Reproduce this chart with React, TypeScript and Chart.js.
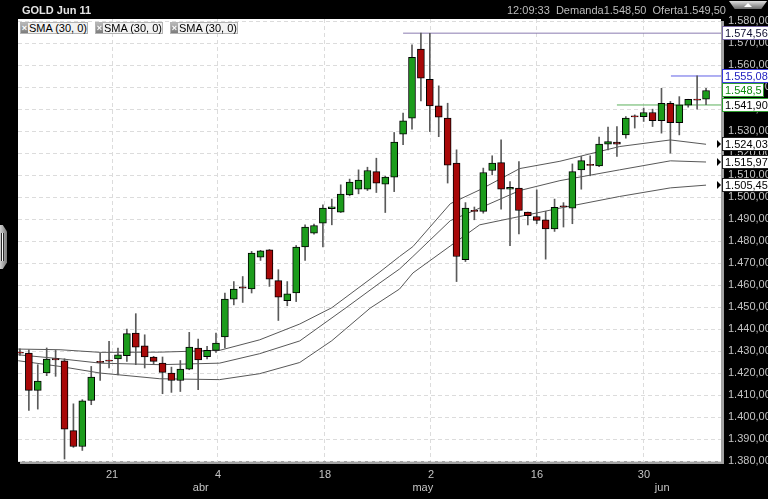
import React, { useEffect, useRef } from "react";
import { Chart, registerables } from "chart.js";

Chart.register(...registerables);

const FONT = '"Liberation Sans", Arial, sans-serif';

// ---- candle data (one slot per session) ----
const opens = [
  1429.5, 1429.1, 1412.1, 1420.0, 1426.6, 1425.6, 1393.8, 1386.6, 1407.5, 1425.3,
  1425.9, 1426.4, 1427.9, 1438.2, 1432.4, 1427.3, 1424.5, 1420.0, 1416.6, 1421.8,
  1431.4, 1427.5, 1430.3, 1436.4, 1453.6, 1459.2, 1458.2, 1472.7, 1476.0, 1462.0,
  1452.9, 1456.4, 1477.3, 1483.6, 1488.2, 1494.8, 1493.2, 1501.0, 1503.6, 1503.6,
  1511.6, 1505.9, 1509.1, 1528.6, 1535.9, 1567.3, 1553.6, 1541.5, 1535.9, 1515.5,
  1471.5, 1494.0, 1493.5, 1512.1, 1515.7, 1503.6, 1504.1, 1493.2, 1491.2, 1489.7,
  1485.5, 1496.0, 1495.0, 1512.4, 1514.9, 1514.2, 1524.1, 1525.0, 1528.3, 1537.0,
  1536.6, 1538.5, 1534.8, 1542.7, 1533.9, 1541.8, 1544.6, 1544.5,
];
const highs = [
  1431.0, 1430.6, 1423.8, 1431.4, 1430.3, 1426.5, 1406.0, 1407.9, 1423.0, 1429.1,
  1434.4, 1431.4, 1440.0, 1447.0, 1437.4, 1427.6, 1427.3, 1422.7, 1425.7, 1438.5,
  1435.5, 1432.1, 1438.2, 1456.4, 1461.6, 1463.9, 1475.3, 1475.8, 1476.2, 1467.0,
  1461.6, 1478.0, 1487.4, 1487.7, 1496.5, 1499.1, 1505.6, 1508.2, 1512.4, 1513.6,
  1517.7, 1509.5, 1529.4, 1538.2, 1569.2, 1574.6, 1574.5, 1550.6, 1542.7, 1521.5,
  1497.5, 1495.5, 1513.2, 1518.8, 1526.0, 1507.1, 1516.2, 1493.2, 1503.3, 1493.5,
  1499.1, 1497.5, 1515.1, 1518.5, 1518.8, 1527.3, 1531.8, 1532.1, 1536.6, 1537.4,
  1540.5, 1540.0, 1549.5, 1543.5, 1545.7, 1544.5, 1555.1, 1549.5,
];
const lows = [
  1428.0, 1403.0, 1403.6, 1418.8, 1418.5, 1380.9, 1386.2, 1384.8, 1405.6, 1416.6,
  1422.3, 1419.2, 1425.3, 1423.8, 1422.3, 1423.8, 1410.6, 1411.2, 1411.6, 1421.5,
  1412.4, 1426.4, 1429.4, 1431.4, 1451.0, 1452.1, 1456.4, 1471.2, 1459.4, 1443.9,
  1450.6, 1452.5, 1471.2, 1483.2, 1477.3, 1487.4, 1493.0, 1500.6, 1501.5, 1503.0,
  1502.1, 1493.0, 1502.5, 1523.8, 1530.9, 1543.8, 1529.8, 1527.5, 1506.4, 1461.6,
  1470.7, 1489.7, 1492.7, 1510.1, 1494.5, 1477.9, 1483.3, 1487.4, 1487.9, 1471.8,
  1484.4, 1486.4, 1487.9, 1503.6, 1509.7, 1513.8, 1521.5, 1518.5, 1526.8, 1531.4,
  1534.4, 1532.1, 1529.1, 1520.0, 1528.3, 1540.9, 1540.0, 1542.0,
];
const closes = [
  1429.0, 1412.1, 1416.4, 1426.4, 1426.0, 1394.5, 1386.6, 1407.4, 1418.2, 1424.8,
  1425.4, 1428.3, 1437.9, 1431.8, 1427.3, 1425.3, 1420.3, 1416.6, 1421.8, 1431.8,
  1426.0, 1430.3, 1433.6, 1453.6, 1458.2, 1458.6, 1474.5, 1475.6, 1462.7, 1454.5,
  1456.0, 1477.3, 1486.4, 1487.1, 1495.0, 1495.6, 1501.4, 1506.8, 1507.7, 1512.1,
  1506.4, 1509.1, 1525.0, 1534.7, 1563.6, 1554.1, 1541.5, 1536.4, 1514.5, 1473.0,
  1495.0, 1493.5, 1511.2, 1515.5, 1503.6, 1504.5, 1493.9, 1491.6, 1489.4, 1485.5,
  1495.3, 1495.5, 1511.6, 1516.6, 1514.4, 1524.1, 1525.3, 1524.1, 1535.9, 1536.5,
  1538.5, 1534.8, 1542.7, 1533.9, 1542.0, 1544.5, 1544.1, 1548.5,
];

// ---- SMA (30) lines: slot position / value ----
const smaHighX = [-0.2, 4.5, 9.0, 15.7, 22.4, 26.9, 31.4, 35.0, 40.4, 42.6, 44.1, 48.3, 51.6, 56.1, 60.6, 67.3, 73.0, 77.0];
const smaHighY = [1430.9, 1430.6, 1429.4, 1429.5, 1430.3, 1435.1, 1442.3, 1449.7, 1466.0, 1473.0, 1477.5, 1497.0, 1503.3, 1513.0, 1516.3, 1523.0, 1526.0, 1524.03];
const smaCloseX = [-0.2, 4.5, 9.0, 15.7, 22.4, 26.9, 31.4, 36.7, 40.4, 42.6, 44.1, 48.3, 51.6, 56.1, 60.6, 67.3, 73.0, 77.0];
const smaCloseY = [1428.3, 1426.5, 1424.5, 1423.8, 1424.5, 1428.8, 1434.6, 1450.0, 1461.0, 1467.3, 1473.0, 1489.3, 1495.0, 1503.0, 1507.5, 1512.4, 1516.5, 1515.97];
const smaLowX = [-0.2, 4.5, 9.0, 15.7, 22.4, 26.9, 31.4, 35.0, 39.3, 42.6, 44.1, 48.3, 51.6, 56.1, 60.6, 67.3, 73.0, 77.0];
const smaLowY = [1425.6, 1423.0, 1420.0, 1417.4, 1417.0, 1419.7, 1424.8, 1434.7, 1449.5, 1458.2, 1465.5, 1477.8, 1487.4, 1491.2, 1495.0, 1500.3, 1504.2, 1505.45];

// ---- horizontal level lines ----
const levelValues = [1574.56, 1555.08, 1541.9];
const levelStart = [43.0, 73.06, 67.0];

// ---- axis ticks ----
const dayTickSlots = [10.33, 22.22, 34.23, 46.13, 58.02, 70.03];
const dayTickLabels = ["21", "4", "18", "2", "16", "30"];
const monthTickSlots = [20.29, 45.21, 72.08];
const monthTickLabels = ["abr", "may", "jun"];
const priceTicks = [1380, 1390, 1400, 1410, 1420, 1430, 1440, 1450, 1460, 1470, 1480, 1490, 1500, 1510, 1520, 1530, 1540, 1550, 1560, 1570, 1580];

// ---- right-edge value tags ----
const tagValues = [1574.56, 1555.08, 1548.5, 1541.9, 1524.03, 1515.97, 1505.45];
const tagTexts = ["1.574,56", "1.555,08", "1.548,5", "1.541,90", "1.524,03", "1.515,97", "1.505,45"];
const tagBorders = ["#7a6aa6", "#3c3ce0", "#2e9e2e", "#2e9e2e", "#222", "#222", "#222"];
const tagTextColors = ["#101030", "#2020c0", "#108a10", "#000", "#000", "#000", "#000"];
const tagArrows = [false, false, false, false, true, true, true];

const X_MIN = -0.22;
const X_MAX = 78.68;

const fmtPrice = (v: number) => {
  const [i, d] = v.toFixed(2).split(".");
  return i.replace(/\B(?=(\d{3})+(?!\d))/g, ".") + "," + d;
};

const bgPlugin = {
  id: "bgPlugin",
  beforeDraw(chart: any) {
    const { ctx, chartArea: a, width, height } = chart;
    ctx.save();
    ctx.fillStyle = "#000";
    ctx.fillRect(0, 0, width, height);
    ctx.fillStyle = "#a2a2a2";
    ctx.fillRect(a.right, a.top + 2, 3, a.bottom - a.top + 1);
    ctx.fillRect(a.left + 2, a.bottom, a.right - a.left + 1, 3);
    ctx.fillStyle = "#fff";
    ctx.fillRect(a.left, a.top, a.right - a.left, a.bottom - a.top);
    ctx.restore();
  },
};

const tagPlugin = {
  id: "tagPlugin",
  afterDraw(chart: any) {
    const { ctx, chartArea: a } = chart;
    const ys = chart.scales.y;
    ctx.save();
    ctx.font = `11px ${FONT}`;
    ctx.textBaseline = "middle";
    tagValues.forEach((v, k) => {
      const py = Math.round(ys.getPixelForValue(v));
      const text = tagTexts[k];
      const w = Math.ceil(ctx.measureText(text).width) + 5;
      const x0 = a.right + 1;
      ctx.fillStyle = "#fff";
      ctx.fillRect(x0, py - 7, w, 14);
      ctx.strokeStyle = tagBorders[k];
      ctx.lineWidth = 1;
      ctx.strokeRect(x0 + 0.5, py - 6.5, w - 1, 13);
      ctx.fillStyle = tagTextColors[k];
      ctx.fillText(text, x0 + 3, py + 0.5);
      if (tagArrows[k]) {
        ctx.fillStyle = "#000";
        ctx.beginPath();
        ctx.moveTo(a.right - 4, py - 4);
        ctx.lineTo(a.right, py);
        ctx.lineTo(a.right - 4, py + 4);
        ctx.closePath();
        ctx.fill();
      }
    });
    ctx.restore();
  },
};

export default function App() {
  const ref = useRef<HTMLCanvasElement | null>(null);

  useEffect(() => {
    if (!ref.current) return;
    const slots = opens.map((_, i) => i);
    const up = "#1c9c1c";
    const down = "#a80808";
    const toPts = (xs: number[], ys: number[]) => xs.map((x, i) => ({ x, y: ys[i] }));
    const smaStyle = {
      type: "line" as const,
      borderColor: "#585858",
      borderWidth: 1,
      pointRadius: 0,
      tension: 0,
      fill: false,
      order: 5,
    };
    const levelColors = ["#8a7cb0", "#6060e6", "#5cb05c"];

    const chart = new Chart(ref.current, {
      type: "bar",
      data: {
        datasets: [
          { ...smaStyle, data: toPts(smaHighX, smaHighY) } as any,
          { ...smaStyle, data: toPts(smaCloseX, smaCloseY) } as any,
          { ...smaStyle, data: toPts(smaLowX, smaLowY) } as any,
          ...levelValues.map((v, k) => ({
            type: "line" as const,
            data: [
              { x: levelStart[k], y: v },
              { x: X_MAX, y: v },
            ],
            borderColor: levelColors[k],
            borderWidth: 1,
            pointRadius: 0,
            order: 5,
          })) as any,
          {
            type: "bar",
            data: slots.map((i) => ({ x: i, y: [lows[i], highs[i]] })),
            backgroundColor: "#5a5a5a",
            borderWidth: 0,
            barThickness: 1,
            grouped: false,
            order: 4,
          } as any,
          {
            type: "bar",
            data: slots.map((i) => ({ x: i, y: [opens[i], closes[i]] })),
            backgroundColor: slots.map((i) => (closes[i] >= opens[i] ? up : down)),
            borderColor: "#000",
            borderWidth: 1,
            borderSkipped: false,
            barThickness: 7,
            grouped: false,
            order: 3,
          } as any,
        ],
      },
      options: {
        responsive: false,
        animation: false,
        devicePixelRatio: 1,
        events: [],
        layout: { padding: { left: 18, top: 19, right: 0, bottom: 0 } },
        plugins: {
          legend: { display: false },
          tooltip: { enabled: false },
          title: { display: false },
        },
        scales: {
          x: {
            type: "linear",
            position: "bottom",
            min: X_MIN,
            max: X_MAX,
            offset: false,
            weight: 0,
            afterBuildTicks: (s: any) => {
              s.ticks = dayTickSlots.map((v) => ({ value: v }));
            },
            afterFit: (s: any) => {
              s.height = 19;
            },
            grid: { color: "#dcdcdc", drawTicks: false, offset: false, lineWidth: 1 },
            border: { display: false, dash: [4, 3] },
            ticks: {
              autoSkip: false,
              maxRotation: 0,
              padding: 7,
              color: "#c4c4c4",
              font: { family: FONT, size: 11 },
              callback: (_v: any, i: number) => dayTickLabels[i],
            },
          },
          x2: {
            type: "linear",
            position: "bottom",
            min: X_MIN,
            max: X_MAX,
            offset: false,
            weight: 1,
            afterBuildTicks: (s: any) => {
              s.ticks = monthTickSlots.map((v) => ({ value: v }));
            },
            afterFit: (s: any) => {
              s.height = 19;
            },
            grid: { display: false, drawTicks: false },
            border: { display: false },
            ticks: {
              autoSkip: false,
              maxRotation: 0,
              padding: 1,
              color: "#c4c4c4",
              font: { family: FONT, size: 11 },
              callback: (_v: any, i: number) => monthTickLabels[i],
            },
          },
          y: {
            type: "linear",
            position: "right",
            min: 1380,
            max: 1581,
            afterBuildTicks: (s: any) => {
              s.ticks = priceTicks.map((v) => ({ value: v }));
            },
            afterFit: (s: any) => {
              s.width = 47;
            },
            grid: { color: "#dcdcdc", drawTicks: false, lineWidth: 1 },
            border: { display: false, dash: [4, 3] },
            ticks: {
              autoSkip: false,
              padding: 7,
              color: "#c4c4c4",
              font: { family: FONT, size: 11 },
              callback: (v: any) => fmtPrice(Number(v)),
            },
          },
        },
      } as any,
      plugins: [bgPlugin, tagPlugin],
    });
    return () => chart.destroy();
  }, []);

  const legendItem = (left: number) => (
    <div
      key={left}
      style={{
        position: "absolute",
        left,
        top: 22,
        height: 12,
        width: 68,
        display: "flex",
        alignItems: "center",
        border: "1px solid #b4b4b4",
        background: "#f2f2f2",
        boxSizing: "border-box",
      }}
    >
      <div
        style={{
          width: 10,
          height: 10,
          background: "linear-gradient(#b8b8b8, #7c7c7c)",
          color: "#fff",
          font: `bold 9px ${FONT}`,
          lineHeight: "10px",
          textAlign: "center",
          marginRight: 1,
        }}
      >
        ×
      </div>
      <span style={{ font: `11px ${FONT}`, color: "#000", lineHeight: "10px", whiteSpace: "nowrap" }}>SMA (30, 0)</span>
    </div>
  );

  return (
    <div
      style={{
        position: "absolute",
        left: 0,
        top: 0,
        width: 768,
        height: 499,
        background: "#000",
        overflow: "hidden",
      }}
    >
      <canvas ref={ref} width={768} height={499} style={{ position: "absolute", left: 0, top: 0, display: "block" }} />
      <div style={{ position: "absolute", left: 22, top: 3, color: "#e4e4e4", font: `bold 11px ${FONT}`, lineHeight: "14px" }}>
        GOLD Jun 11
      </div>
      <div
        style={{
          position: "absolute",
          left: 507,
          top: 3,
          color: "#bcbcbc",
          font: `11px ${FONT}`,
          lineHeight: "14px",
          whiteSpace: "pre",
        }}
      >
        12:09:33  Demanda1.548,50  Oferta1.549,50
      </div>
      <div
        style={{
          position: "absolute",
          left: 729,
          top: 1,
          width: 38,
          height: 8,
          background: "linear-gradient(#e0e0e0, #6a6a6a)",
          clipPath: "polygon(0 0, 100% 0, 85% 100%, 15% 100%)",
        }}
      >
        <div
          style={{
            position: "absolute",
            left: 15,
            top: 2,
            width: 0,
            height: 0,
            borderLeft: "4px solid transparent",
            borderRight: "4px solid transparent",
            borderBottom: "4px solid #fff",
          }}
        />
      </div>
      {legendItem(20)}
      {legendItem(95)}
      {legendItem(170)}
      <div
        style={{
          position: "absolute",
          left: 0,
          top: 225,
          width: 7,
          height: 44,
          background: "linear-gradient(90deg, #d0d0d0, #7a7a7a)",
          clipPath: "polygon(0 0, 40% 0, 100% 15%, 100% 85%, 40% 100%, 0 100%)",
        }}
      >
        <div style={{ position: "absolute", left: 1, top: 8, width: 3, height: 28, background: "#2a2a2a" }} />
        <div style={{ position: "absolute", left: 2, top: 8, width: 1, height: 28, background: "#fff" }} />
      </div>
    </div>
  );
}
